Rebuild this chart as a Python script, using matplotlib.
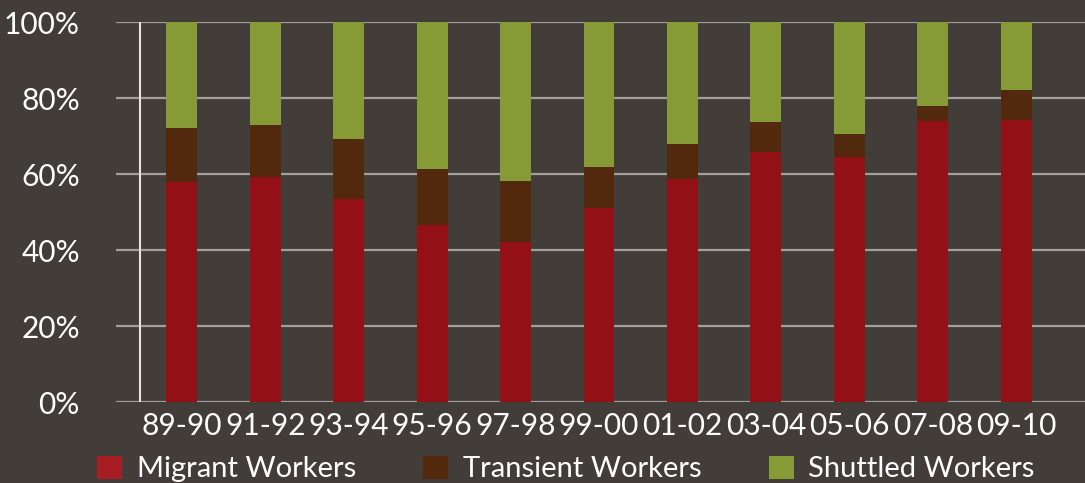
import numpy as np
import matplotlib
matplotlib.use('Agg')
import matplotlib.pyplot as plt
from matplotlib.patches import Patch

# values (share of workers, %)
PERIODS   = ['89-90', '91-92', '93-94', '95-96', '97-98', '99-00',
             '01-02', '03-04', '05-06', '07-08', '09-10']
MIGRANT   = [58.1, 59.3, 53.5, 46.7, 42.3, 51.2, 58.8, 65.9, 64.6, 74.0, 74.4]
TRANSIENT = [14.2, 13.7, 15.8, 14.7, 15.9, 10.7, 9.2, 7.9, 6.0, 4.0, 7.8]
SHUTTLED  = [27.7, 27.0, 30.7, 38.6, 41.8, 38.1, 32.0, 26.2, 29.4, 22.0, 17.8]
LABELS    = ['Migrant Workers', 'Transient Workers', 'Shuttled Workers']
COLORS    = ['#931016', '#52290c', '#869b35']
BG        = '#433d3a'
GRID      = '#a39e9b'

plt.rcParams['font.family'] = ['Lato', 'DejaVu Sans']

fig = plt.figure(figsize=(10.85, 4.83), dpi=100, facecolor=BG)
ax = fig.add_axes([116 / 1085, 80.7 / 483, 1 - 116 / 1085, 380 / 483])
ax.set_facecolor(BG)

x = np.arange(len(PERIODS))
bottom = np.zeros(len(PERIODS))
for vals, col in zip([MIGRANT, TRANSIENT, SHUTTLED], COLORS):
    ax.bar(x, vals, bottom=bottom, width=0.37, color=col, zorder=3)
    bottom += np.array(vals)

step = 83.45
ax.set_xlim(-0.5 - 24 / step, -0.5 + 945 / step)
ax.set_ylim(0, 100)
for y in range(0, 101, 20):
    ax.axhline(y, color=GRID, linewidth=1.6, zorder=1)
ax.axvline(-0.5, color='#e6e3e1', linewidth=1.5, zorder=2)

for s in ax.spines.values():
    s.set_visible(False)
ax.set_yticks(range(0, 101, 20))
ax.set_yticklabels([f'{v}%' for v in range(0, 101, 20)])
ax.set_xticks(x)
ax.set_xticklabels(PERIODS)
ax.tick_params(axis='y', length=0, pad=26, labelsize=21.5, labelcolor='white')
ax.tick_params(axis='x', length=0, pad=7, labelsize=21.5, labelcolor='white')

handles = [Patch(facecolor=c, edgecolor='none') for c in ['#a61e23', COLORS[1], COLORS[2]]]
leg = fig.legend(handles, LABELS, loc='center', bbox_to_anchor=(566 / 1085, 14 / 483),
                 ncol=3, frameon=False, fontsize=21, labelcolor='white',
                 handlelength=0.86, handleheight=0.86, handletextpad=0.5,
                 columnspacing=2.3, borderaxespad=0, borderpad=0)

fig.savefig('out.png', dpi=100, facecolor=BG)
